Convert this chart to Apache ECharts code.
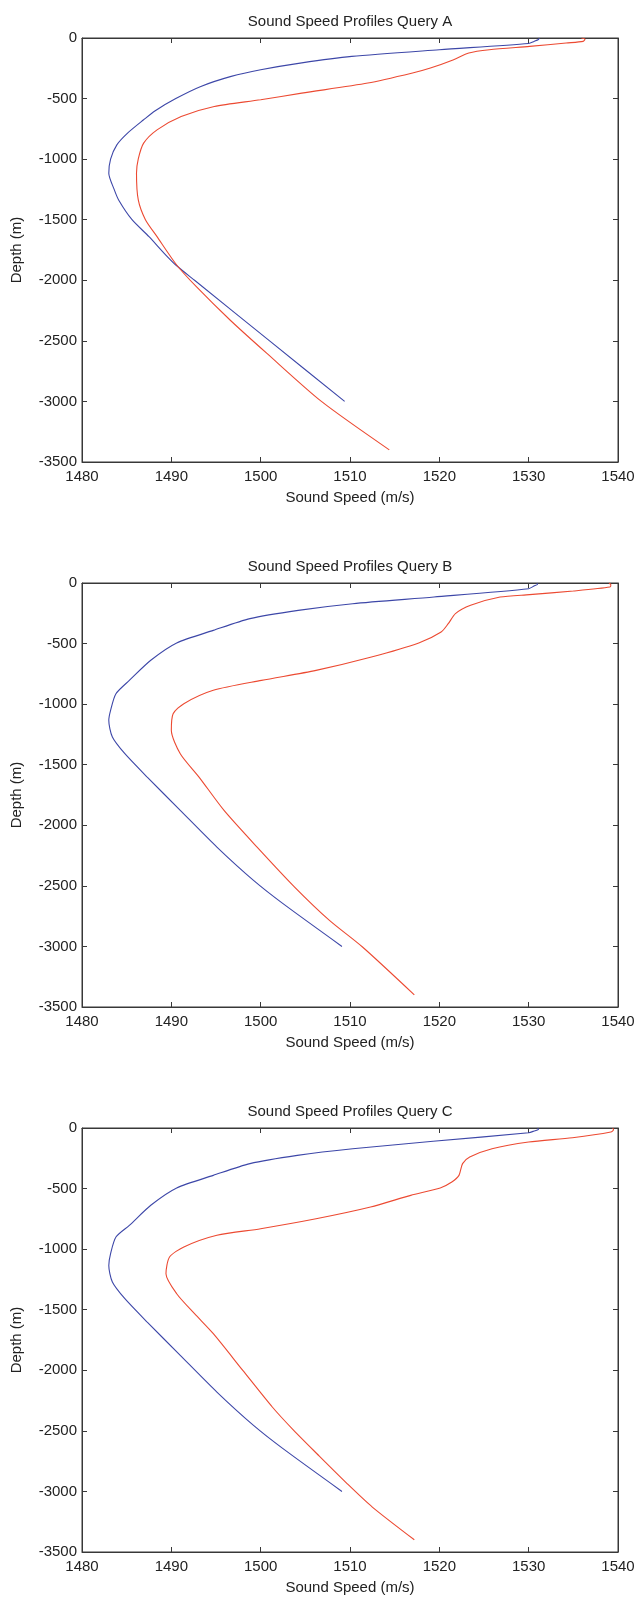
<!DOCTYPE html>
<html>
<head>
<meta charset="utf-8">
<title>Sound Speed Profiles</title>
<script src="https://cdn.jsdelivr.net/npm/echarts@6/dist/echarts.min.js"></script>
<style>
  html, body { margin: 0; padding: 0; background: #fff; }
  #main { width: 638px; height: 1597px; }
</style>
</head>
<body>
<div id="main"></div>
<script>
// 三个子图的标题
var titles = ["Sound Speed Profiles Query A", "Sound Speed Profiles Query B", "Sound Speed Profiles Query C"];
var xTicks = [1480, 1490, 1500, 1510, 1520, 1530, 1540];
var yTicks = [-3500, -3000, -2500, -2000, -1500, -1000, -500, 0];

// Query A
var depthA_blue = [0, -12, -28, -45, -97, -152, -205, -262, -317, -400, -500, -600, -675, -785, -882, -1000, -1116, -1250, -1337, -1500, -1640, -1777, -1874, -2000, -2500, -3000];
var speedA_blue = [1531.2, 1531.1, 1530.6, 1530.0, 1520.0, 1510.2, 1504.6, 1500.0, 1496.7, 1493.3, 1490.5, 1488.2, 1486.9, 1485.1, 1483.9, 1483.2, 1483.0, 1483.6, 1484.1, 1485.6, 1487.5, 1489.2, 1490.5, 1492.6, 1501.0, 1509.4];
var depthA_red = [0, -10, -28, -41, -69, -97, -124, -179, -248, -289, -372, -455, -510, -565, -648, -758, -868, -998, -1116, -1337, -1500, -1640, -1874, -2053, -2330, -2604, -3000, -3400];
var speedA_red = [1535.9, 1536.3, 1536.1, 1534.2, 1530.1, 1525.6, 1523.3, 1521.6, 1519.0, 1517.0, 1512.0, 1504.6, 1500.0, 1494.8, 1491.1, 1488.4, 1486.9, 1486.3, 1486.1, 1486.3, 1487.1, 1488.4, 1490.6, 1492.8, 1496.6, 1500.7, 1506.8, 1514.4];

// Query B
var depthB_blue = [0, -10, -25, -47, -116, -171, -226, -294, -391, -495, -638, -804, -914, -1051, -1134, -1271, -1409, -1602, -1877, -2180, -2455, -2647, -3000];
var speedB_blue = [1530.9, 1531.0, 1530.6, 1530.0, 1519.4, 1510.3, 1504.2, 1498.8, 1494.7, 1490.6, 1487.7, 1485.3, 1483.8, 1483.2, 1483.0, 1483.4, 1484.8, 1487.3, 1491.0, 1495.1, 1499.2, 1502.5, 1509.1];
var depthB_red = [0, -15, -33, -66, -96, -116, -184, -253, -336, -405, -495, -611, -721, -804, -886, -996, -1079, -1216, -1409, -1602, -1877, -2180, -2510, -2785, -3005, -3400];
var speedB_red = [1539.0, 1539.2, 1539.1, 1535.0, 1530.1, 1526.8, 1523.5, 1521.8, 1521.0, 1520.2, 1517.7, 1512.4, 1506.2, 1500.1, 1494.7, 1491.4, 1490.2, 1490.0, 1491.0, 1493.1, 1495.9, 1499.6, 1503.8, 1507.7, 1511.4, 1517.2];

// Query C
var depthC_blue = [0, -10, -25, -39, -110, -171, -226, -294, -391, -495, -638, -804, -900, -1037, -1134, -1271, -1409, -1602, -1877, -2180, -2455, -2647, -3000];
var speedC_blue = [1531.0, 1531.1, 1530.6, 1530.0, 1519.3, 1510.3, 1504.1, 1498.8, 1494.7, 1490.6, 1487.7, 1485.3, 1483.8, 1483.2, 1483.0, 1483.4, 1484.8, 1487.3, 1491.0, 1495.1, 1499.2, 1502.5, 1509.1];
var depthC_red = [0, -15, -33, -80, -116, -171, -239, -294, -391, -446, -495, -556, -652, -749, -831, -886, -982, -1065, -1203, -1368, -1533, -1698, -2001, -2303, -2496, -2689, -2937, -3129, -3399];
var speedC_red = [1539.4, 1539.5, 1539.2, 1534.9, 1530.0, 1525.9, 1523.4, 1522.6, 1522.2, 1521.4, 1520.1, 1516.8, 1512.3, 1506.2, 1500.0, 1495.1, 1491.4, 1489.8, 1489.4, 1490.6, 1492.6, 1494.7, 1498.0, 1501.3, 1503.7, 1506.3, 1509.7, 1512.5, 1517.2];

var blueColor = "#3d47a8";
var redColor = "#ec4a32";
var axisColor = "#383838";
var textColor = "#222";
var font = "'Liberation Sans', Arial, sans-serif";

// 各子图的位置
var gridTops = [38, 583, 1128];
var gridLeft = 82;
var gridWidth = 536;
var gridHeight = 424;

function zip(speeds, depths) {
  var out = [];
  depths.forEach(function (d, i) {
    out.push([speeds[i], d]);
  });
  return out;
}

// 不要千分位
function plain(v) {
  return String(v);
}

var curves = [
  [zip(speedA_blue, depthA_blue), zip(speedA_red, depthA_red)],
  [zip(speedB_blue, depthB_blue), zip(speedB_red, depthB_red)],
  [zip(speedC_blue, depthC_blue), zip(speedC_red, depthC_red)]
];

var myChart = echarts.init(document.getElementById("main"));

var option = {
  animation: false,
  backgroundColor: "#fff",
  textStyle: { fontFamily: font, color: textColor },
  title: [],
  grid: [],
  xAxis: [],
  yAxis: [],
  series: []
};

gridTops.forEach(function (top, g) {
  option.title.push({
    text: titles[g],
    left: gridLeft + gridWidth / 2,
    top: top - 24,
    textAlign: "center",
    padding: 0,
    textStyle: { fontSize: 15, fontWeight: "normal", color: textColor, fontFamily: font }
  });
  option.grid.push({
    left: gridLeft,
    top: top,
    width: gridWidth,
    height: gridHeight,
    show: true,
    borderColor: axisColor,
    borderWidth: 1,
    backgroundColor: "#fff"
  });

  var lineStyle = { color: axisColor, width: 1 };
  // 下方和上方的 x 轴
  option.xAxis.push({
    type: "value",
    gridIndex: g,
    position: "bottom",
    min: xTicks[0],
    max: xTicks[xTicks.length - 1],
    interval: 10,
    name: "Sound Speed (m/s)",
    nameLocation: "middle",
    nameGap: 28,
    nameTextStyle: { fontSize: 15, color: textColor, fontFamily: font },
    axisLine: { onZero: false, lineStyle: lineStyle },
    axisTick: { inside: true, length: 5, lineStyle: lineStyle },
    axisLabel: { fontSize: 15, color: textColor, margin: 7, fontFamily: font, formatter: plain },
    splitLine: { show: false }
  });
  option.xAxis.push({
    type: "value",
    gridIndex: g,
    position: "top",
    min: xTicks[0],
    max: xTicks[xTicks.length - 1],
    interval: 10,
    axisLine: { onZero: false, lineStyle: lineStyle },
    axisTick: { inside: true, length: 5, lineStyle: lineStyle },
    axisLabel: { show: false },
    splitLine: { show: false }
  });
  // 左侧和右侧的 y 轴
  option.yAxis.push({
    type: "value",
    gridIndex: g,
    position: "left",
    min: yTicks[0],
    max: yTicks[yTicks.length - 1],
    interval: 500,
    name: "Depth (m)",
    nameLocation: "middle",
    nameGap: 58,
    nameTextStyle: { fontSize: 15, color: textColor, fontFamily: font },
    axisLine: { onZero: false, lineStyle: lineStyle },
    axisTick: { inside: true, length: 5, lineStyle: lineStyle },
    axisLabel: { fontSize: 15, color: textColor, margin: 5, fontFamily: font, formatter: plain },
    splitLine: { show: false }
  });
  option.yAxis.push({
    type: "value",
    gridIndex: g,
    position: "right",
    min: yTicks[0],
    max: yTicks[yTicks.length - 1],
    interval: 500,
    axisLine: { onZero: false, lineStyle: lineStyle },
    axisTick: { inside: true, length: 5, lineStyle: lineStyle },
    axisLabel: { show: false },
    splitLine: { show: false }
  });

  [blueColor, redColor].forEach(function (c, k) {
    option.series.push({
      type: "line",
      xAxisIndex: g * 2,
      yAxisIndex: g * 2,
      data: curves[g][k],
      showSymbol: false,
      smooth: 0.25,
      lineStyle: { color: c, width: 1.1 },
      itemStyle: { color: c },
      z: 3
    });
  });
});

myChart.setOption(option);
</script>
</body>
</html>
